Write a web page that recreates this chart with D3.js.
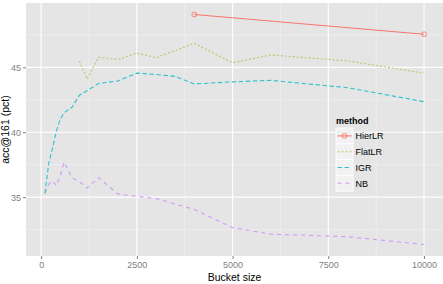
<!DOCTYPE html>
<html lang="en">
<head>
    <meta charset="UTF-8">
    <title>acc@161 vs bucket size</title>
    <script src="https://cdn.jsdelivr.net/npm/d3@7/dist/d3.min.js"></script>
    <style>
        body { margin: 0; background: #fff; }
        svg { display: block; font-family: "Liberation Sans", Arial, sans-serif; }
    </style>
</head>
<body>
<svg height="284" width="443"></svg>

<script>
    // data
    var methods = ['HierLR', 'FlatLR', 'IGR', 'NB'];
    var hierX = [4000, 10000];
    var hierY = [49.07, 47.55];
    var flatX = [1000, 1200, 1500, 2000, 2500, 3000, 4000, 5000, 6000, 8000, 10000];
    var flatY = [45.48, 44.1, 45.77, 45.6, 46.1, 45.74, 46.85, 45.35, 45.95, 45.5, 44.55];
    var igrX = [100, 200, 300, 400, 500, 600, 800, 1000, 1200, 1500, 2000, 2500, 3000, 3500, 4000, 5000, 6000, 8000, 10000];
    var igrY = [35.3, 37.6, 38.8, 40.1, 41.0, 41.5, 41.9, 42.85, 43.2, 43.75, 43.95, 44.55, 44.45, 44.3, 43.72, 43.88, 44.0, 43.43, 42.35];
    var nbX = [100, 200, 300, 400, 500, 600, 800, 1000, 1200, 1500, 2000, 2500, 3000, 4000, 5000, 6000, 8000, 10000];
    var nbY = [35.3, 36.0, 36.25, 35.9, 36.65, 37.7, 36.5, 36.2, 35.7, 36.5, 35.25, 35.05, 34.9, 34.05, 32.65, 32.15, 31.95, 31.35];
    var xTicks = [0, 2500, 5000, 7500, 10000];
    var yTicks = [35, 40, 45];

    var colors = {HierLR: '#F8766D', FlatLR: '#B9C76A', IGR: '#2CC3C9', NB: '#CF9AF7'};
    var dashes = {HierLR: null, FlatLR: '2,2', IGR: '4.5,2.5', NB: '4,4'};

    function zip(xs, ys) {
        return xs.map(function (x, i) { return [x, ys[i]]; });
    }
    var series = [
        {name: 'HierLR', values: zip(hierX, hierY)},
        {name: 'FlatLR', values: zip(flatX, flatY)},
        {name: 'IGR', values: zip(igrX, igrY)},
        {name: 'NB', values: zip(nbX, nbY)}
    ];

    var panel = {left: 26, top: 3, right: 443, bottom: 256};

    // ggplot-style 5% expansion
    var xMin = 100, xMax = 10000, yMin = 31.35, yMax = 49.07;
    var xPad = (xMax - xMin) * 0.05, yPad = (yMax - yMin) * 0.05;
    var xScale = d3.scaleLinear().domain([xMin - xPad, xMax + xPad]).range([panel.left, panel.right]);
    var yScale = d3.scaleLinear().domain([yMin - yPad, yMax + yPad]).range([panel.bottom, panel.top]);

    var svg = d3.select('svg');

    svg.append('rect')
        .attr('x', panel.left).attr('y', panel.top)
        .attr('width', panel.right - panel.left).attr('height', panel.bottom - panel.top)
        .attr('fill', '#E5E5E5');

    // minor grid
    var xMinor = [1250, 3750, 6250, 8750];
    var yMinor = [32.5, 37.5, 42.5, 47.5];
    var grid = svg.append('g');
    grid.selectAll('.xmin').data(xMinor).enter().append('line')
        .attr('x1', xScale).attr('x2', xScale)
        .attr('y1', panel.top).attr('y2', panel.bottom)
        .attr('stroke', '#F2F2F2').attr('stroke-width', 0.6);
    grid.selectAll('.ymin').data(yMinor).enter().append('line')
        .attr('y1', yScale).attr('y2', yScale)
        .attr('x1', panel.left).attr('x2', panel.right)
        .attr('stroke', '#F2F2F2').attr('stroke-width', 0.6);
    // major grid
    grid.selectAll('.xmaj').data(xTicks).enter().append('line')
        .attr('x1', xScale).attr('x2', xScale)
        .attr('y1', panel.top).attr('y2', panel.bottom)
        .attr('stroke', '#FFFFFF').attr('stroke-width', 1.1);
    grid.selectAll('.ymaj').data(yTicks).enter().append('line')
        .attr('y1', yScale).attr('y2', yScale)
        .attr('x1', panel.left).attr('x2', panel.right)
        .attr('stroke', '#FFFFFF').attr('stroke-width', 1.1);

    // axes
    var xAxis = d3.axisBottom(xScale).tickValues(xTicks).tickSize(3).tickPadding(3).tickFormat(d3.format('d'));
    var yAxis = d3.axisLeft(yScale).tickValues(yTicks).tickSize(3).tickPadding(2);

    var gx = svg.append('g').attr('transform', 'translate(0,' + panel.bottom + ')').call(xAxis);
    var gy = svg.append('g').attr('transform', 'translate(' + panel.left + ',0)').call(yAxis);
    [gx, gy].forEach(function (g) {
        g.select('.domain').remove();
        g.selectAll('line').attr('stroke', '#7F7F7F');
        g.selectAll('text').attr('fill', '#7F7F7F').style('font-size', '9px')
            .style('font-family', '"Liberation Sans", Arial, sans-serif');
    });

    svg.append('text').attr('x', (panel.left + panel.right) / 2).attr('y', 281)
        .attr('text-anchor', 'middle').style('font-size', '10.5px').text('Bucket size');
    svg.append('text').attr('transform', 'translate(9,' + (panel.top + panel.bottom) / 2 + ') rotate(-90)')
        .attr('text-anchor', 'middle').style('font-size', '10.5px').text('acc@161 (pct)');

    // lines
    var line = d3.line()
        .x(function (d) { return xScale(d[0]); })
        .y(function (d) { return yScale(d[1]); });

    var lines = svg.append('g');
    series.slice().reverse().forEach(function (s) {
        lines.append('path')
            .attr('d', line(s.values))
            .attr('fill', 'none')
            .attr('stroke', colors[s.name])
            .attr('stroke-width', 1.1)
            .attr('stroke-dasharray', dashes[s.name]);
    });
    lines.selectAll('circle').data(series[0].values).enter().append('circle')
        .attr('cx', function (d) { return xScale(d[0]); })
        .attr('cy', function (d) { return yScale(d[1]); })
        .attr('r', 2.4)
        .attr('fill', 'none')
        .attr('stroke', colors.HierLR)
        .attr('stroke-width', 0.9);

    // legend
    var legend = svg.append('g').attr('transform', 'translate(336,112)');
    legend.append('text').attr('x', 0).attr('y', 12).style('font-size', '9px')
        .style('font-weight', 'bold').text('method');
    var keyH = 15.8;
    var items = legend.selectAll('.item').data(methods).enter().append('g')
        .attr('transform', function (d, i) { return 'translate(0,' + (16 + i * keyH) + ')'; });
    items.append('rect').attr('width', 17).attr('height', keyH)
        .attr('fill', '#F2F2F2').attr('stroke', '#FFFFFF').attr('stroke-width', 0.8);
    items.append('line').attr('x1', 1.5).attr('x2', 15.5).attr('y1', keyH / 2).attr('y2', keyH / 2)
        .attr('stroke', function (d) { return colors[d]; })
        .attr('stroke-width', 1.1)
        .attr('stroke-dasharray', function (d) { return dashes[d]; });
    items.filter(function (d) { return d === 'HierLR'; }).append('circle')
        .attr('cx', 8.5).attr('cy', keyH / 2).attr('r', 2.4)
        .attr('fill', 'none').attr('stroke', colors.HierLR).attr('stroke-width', 0.9);
    items.append('text').attr('x', 19.5).attr('y', keyH / 2 + 3.3)
        .style('font-size', '9px').text(function (d) { return d; });
</script>
</body>
</html>
